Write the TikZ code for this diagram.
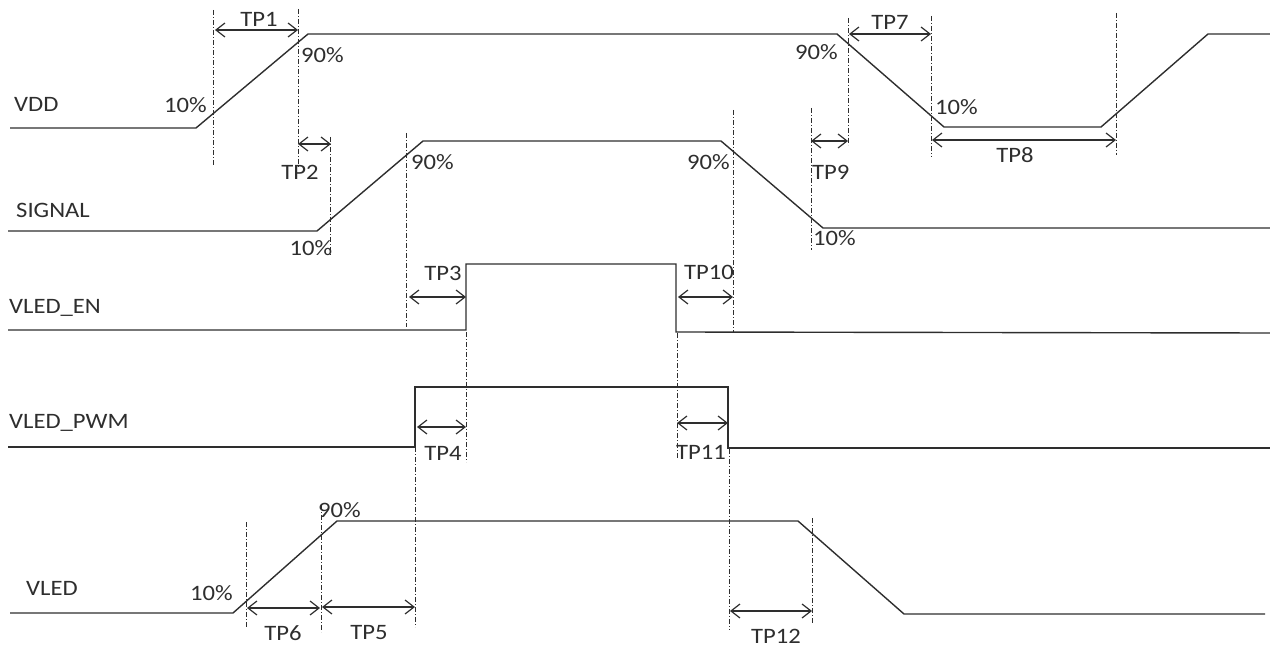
\documentclass[tikz,border=0pt]{standalone}
\usepackage{fontspec}
\setmainfont[FakeStretch=1.12]{Carlito}
\usetikzlibrary{arrows.meta}
\definecolor{trait}{HTML}{2E2E2E}

\begin{document}
\begin{tikzpicture}[
      x=1pt,y=-1pt,
      wave/.style={
        draw=trait,
        line width=1.4pt
      },
      guide/.style={
        draw=trait,
        line width=0.9pt,
        dash pattern={on 5pt off 2pt on 1pt off 2pt}
      },
      span/.style={
        draw=trait,
        line width=1.2pt,
        {Straight Barb[length=9pt,width=14pt]}-{Straight Barb[length=9pt,width=14pt]}
      },
      lbl/.style={
        inner sep=1pt,
        text=trait,
        font=\fontsize{22}{26}\selectfont
      }
    ]
      \useasboundingbox (0,0) rectangle (1270,650);

      % signal names
      \node (nvdd) at (13,104) [lbl,anchor=west]{VDD};
      \node (nsig) at (15,210) [lbl,anchor=west]{SIGNAL};
      \node (nen) at (8,308) [lbl,anchor=west]{VLED\_EN};
      \node (npwm) at (8,423) [lbl,anchor=west]{VLED\_PWM};
      \node (nvled) at (25,588) [lbl,anchor=west]{VLED};

      % waveforms
      \draw[wave] (10,128) -- (196,128) -- (308,34) -- (837,34) -- (944,127) -- (1101,127) -- (1208,34) -- (1270,34);
      \draw[wave] (8,231) -- (317,231) -- (423,141) -- (721,141) -- (823,228) -- (1270,228);
      \draw[wave] (8,330) -- (466,330) -- (466,264) -- (676,264) -- (676,332) -- (1270,333);
      \draw[wave] (8,447) -- (415,447) -- (415,387) -- (728,387) -- (728,448) -- (1270,448);
      \draw[wave] (10,613) -- (233,613) -- (337,521) -- (798,521) -- (904,614) -- (1265,614);

      % guide lines
      \foreach \gx/\gt/\gb in {213/10/165, 298/9/168, 330/137/255, 406/133/327,
          466/332/462, 415/447/627, 677/333/458, 729/449/630, 733/110/332,
          811/108/250, 848/18/145, 931/16/157, 1116/13/155, 246/522/627,
          321/505/632, 812/518/623}
        \draw[guide] (\gx,\gt) -- (\gx,\gb);

      % percent levels
      \node (p1) at (208,105) [lbl,anchor=east]{10\%};
      \node (p2) at (300,55) [lbl,anchor=west]{90\%};
      \node (p3) at (839,52) [lbl,anchor=east]{90\%};
      \node (p4) at (934,107) [lbl,anchor=west]{10\%};
      \node (p5) at (311,248) [lbl]{10\%};
      \node (p6) at (410,162) [lbl,anchor=west]{90\%};
      \node (p7) at (731,162) [lbl,anchor=east]{90\%};
      \node (p8) at (812,238) [lbl,anchor=west]{10\%};
      \node (p9) at (234,593) [lbl,anchor=east]{10\%};
      \node (p10) at (317,510) [lbl,anchor=west]{90\%};

      % timing spans
      \coordinate (tp1a) at (215,30);   \coordinate (tp1b) at (298,30);
      \coordinate (tp2a) at (298,144);  \coordinate (tp2b) at (331,144);
      \coordinate (tp3a) at (409,297);  \coordinate (tp3b) at (466,297);
      \coordinate (tp4a) at (417,427);  \coordinate (tp4b) at (466,427);
      \coordinate (tp5a) at (322,607);  \coordinate (tp5b) at (415,607);
      \coordinate (tp6a) at (247,608);  \coordinate (tp6b) at (320,608);
      \coordinate (tp7a) at (849,34);   \coordinate (tp7b) at (931,34);
      \coordinate (tp8a) at (932,140);  \coordinate (tp8b) at (1116,140);
      \coordinate (tp9a) at (811,141);  \coordinate (tp9b) at (848,141);
      \coordinate (tp10a) at (678,297); \coordinate (tp10b) at (733,297);
      \coordinate (tp11a) at (677,423); \coordinate (tp11b) at (728,423);
      \coordinate (tp12a) at (730,611); \coordinate (tp12b) at (812,611);

      \foreach \k in {1,...,12}
        \draw[span] (tp\k a) -- (tp\k b);

      \node (t1) at (259,19) [lbl]{TP1};
      \node (t2) at (300,172) [lbl]{TP2};
      \node (t3) at (443,273) [lbl]{TP3};
      \node (t4) at (443,453) [lbl]{TP4};
      \node (t5) at (369,633) [lbl]{TP5};
      \node (t6) at (283,633) [lbl]{TP6};
      \node (t7) at (890,22) [lbl]{TP7};
      \node (t8) at (1015,155) [lbl]{TP8};
      \node (t9) at (811,172) [lbl,anchor=west]{TP9};
      \node (t10) at (709,272) [lbl]{TP10};
      \node (t11) at (701,452) [lbl]{TP11};
      \node (t12) at (776,636) [lbl]{TP12};

    \end{tikzpicture}
\end{document}
